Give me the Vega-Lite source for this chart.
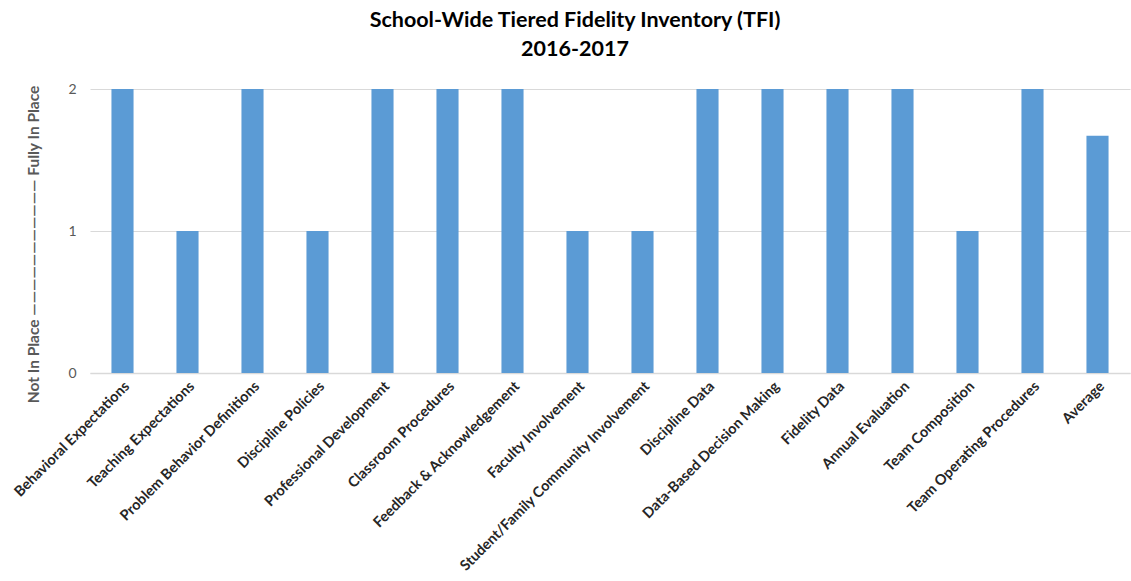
{
  "$schema": "https://vega.github.io/schema/vega-lite/v6.json",
  "width": 1040,
  "height": 284,
  "autosize": {"type": "none"},
  "padding": {"left": 90, "top": 89, "right": 1, "bottom": 208},
  "background": "white",
  "title": {
    "text": ["School-Wide Tiered Fidelity Inventory (TFI)", "2016-2017"],
    "font": "Lato",
    "fontSize": 21.5,
    "fontWeight": "bold",
    "color": "#000000",
    "lineHeight": 29,
    "anchor": "middle",
    "dx": -35,
    "offset": 21
  },
  "data": {
    "values": [
      {"area": "Behavioral Expectations", "score": 2},
      {"area": "Teaching Expectations", "score": 1},
      {"area": "Problem Behavior Definitions", "score": 2},
      {"area": "Discipline Policies", "score": 1},
      {"area": "Professional Development", "score": 2},
      {"area": "Classroom Procedures", "score": 2},
      {"area": "Feedback & Acknowledgement", "score": 2},
      {"area": "Faculty Involvement", "score": 1},
      {"area": "Student/Family Community Involvement", "score": 1},
      {"area": "Discipline Data", "score": 2},
      {"area": "Data-Based Decision Making", "score": 2},
      {"area": "Fidelity Data", "score": 2},
      {"area": "Annual Evaluation", "score": 2},
      {"area": "Team Composition", "score": 1},
      {"area": "Team Operating Procedures", "score": 2},
      {"area": "Average", "score": 1.67}
    ]
  },
  "mark": {"type": "bar", "color": "#5B9BD5"},
  "encoding": {
    "x": {
      "field": "area",
      "type": "nominal",
      "sort": null,
      "scale": {"paddingInner": 0.66, "paddingOuter": 0.33},
      "axis": {
        "title": null,
        "labelAngle": -45,
        "labelFont": "Lato",
        "labelFontSize": 14.5,
        "labelFontWeight": "bold",
        "labelColor": "#262626",
        "labelPadding": 6,
        "labelLimit": 400,
        "ticks": false,
        "domainColor": "#D9D9D9",
        "domainWidth": 1.5
      }
    },
    "y": {
      "field": "score",
      "type": "quantitative",
      "scale": {"domain": [0, 2], "nice": false},
      "axis": {
        "tickCount": 2,
        "format": "d",
        "title": "Not In Place  ———————————  Fully In Place",
        "titleFont": "Lato",
        "titleFontSize": 15.5,
        "titleFontWeight": "bold",
        "titleColor": "#595959",
        "titleAngle": -90,
        "titleX": -57,
        "titleY": 155,
        "titleAlign": "center",
        "titleBaseline": "middle",
        "labelFont": "Lato",
        "labelFontSize": 14,
        "labelColor": "#595959",
        "labelPadding": 14,
        "labelOverlap": false,
        "ticks": false,
        "domain": false,
        "grid": true,
        "gridColor": "#D9D9D9",
        "gridWidth": 1.2
      }
    }
  },
  "config": {"view": {"stroke": null}}
}
